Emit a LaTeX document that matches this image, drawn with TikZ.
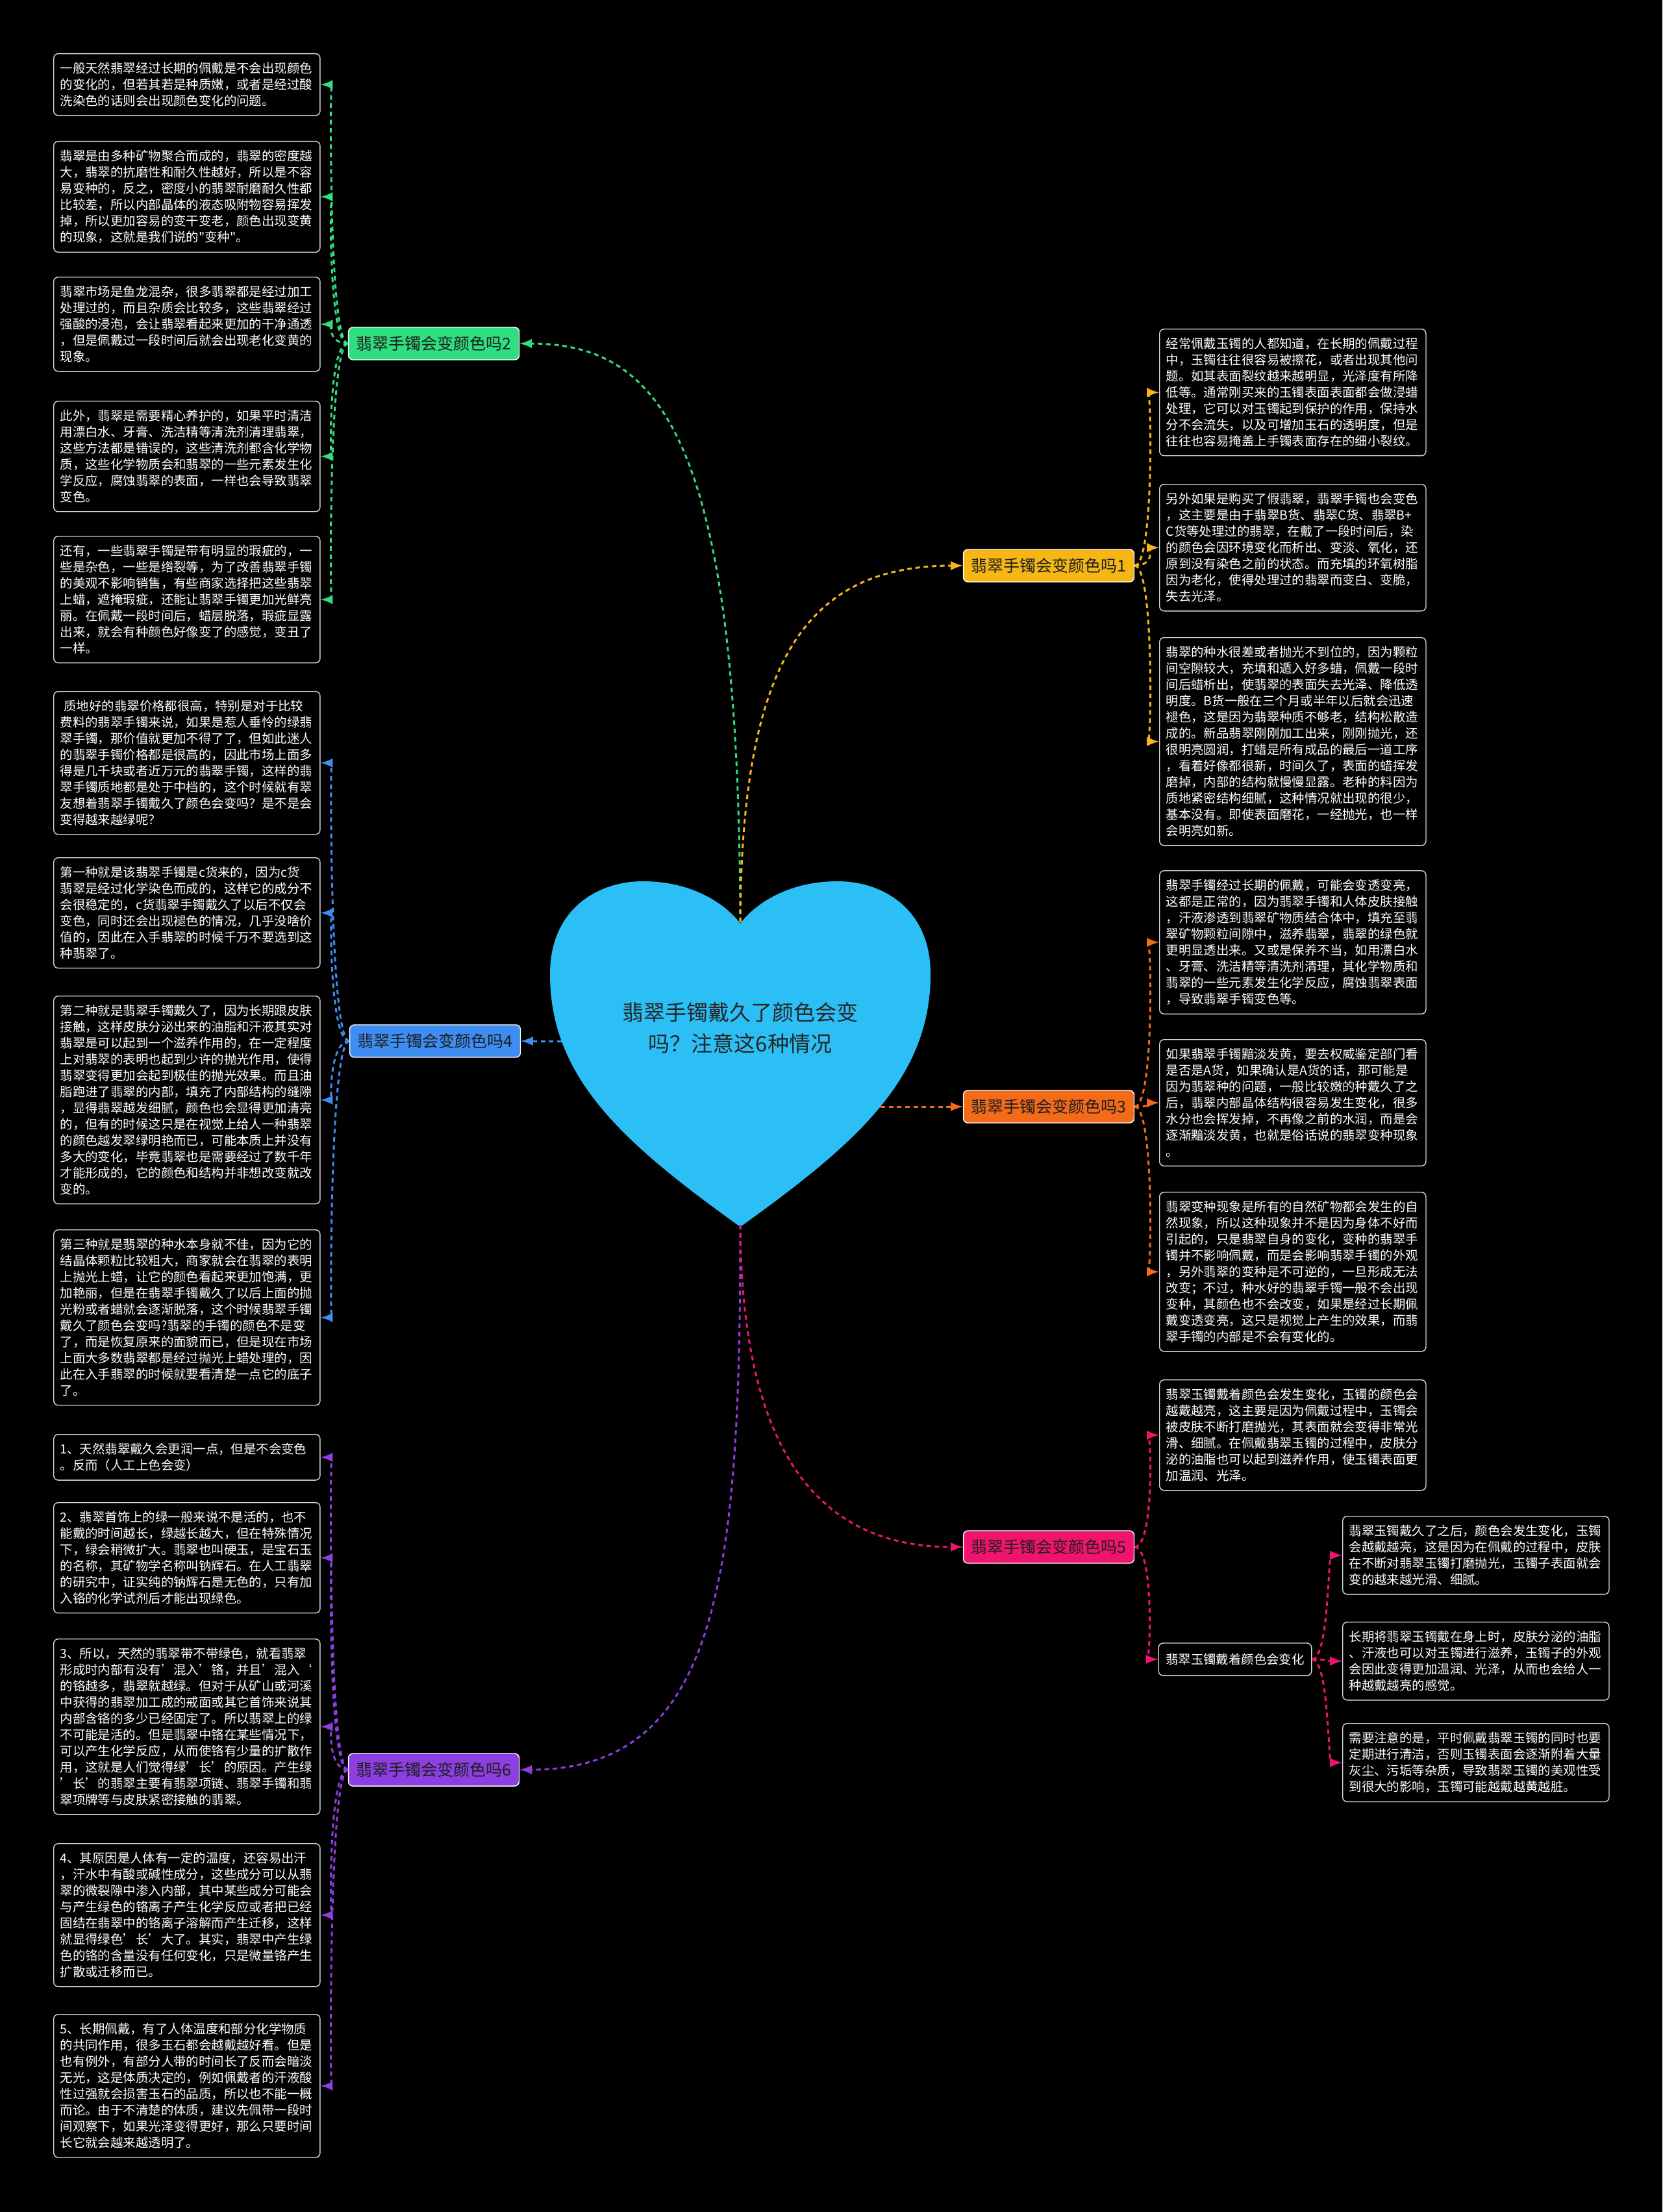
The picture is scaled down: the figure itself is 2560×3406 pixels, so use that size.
\documentclass[tikz,border=0pt]{standalone}
\usepackage{fontspec}
\usepackage{tikz}
\newfontfamily\cjk{Noto Sans CJK SC}
\definecolor{herzblau}{RGB}{43,191,246}
\definecolor{gruen}{RGB}{47,222,128}
\definecolor{blau}{RGB}{62,141,243}
\definecolor{lila}{RGB}{140,62,224}
\definecolor{gelb}{RGB}{246,183,22}
\definecolor{orange}{RGB}{243,106,25}
\definecolor{pink}{RGB}{240,20,110}

\begin{document}
\begin{tikzpicture}[x=0.01cm, y=-0.01cm,
		>=latex,   %Pfeilspitzen
		txt/.style={draw=white!85!black, line width=0.4pt, rounded corners=0.07cm, fill=black, text=white,
			font=\cjk\fontsize{5.52}{7.11}\selectfont, text width=3.9cm, align=left,
			inner xsep=0.1cm, inner ysep=0.135cm, anchor=north west},
		thema/.style={draw=white, line width=0.4pt, rounded corners=0.07cm, fill=#1, text=black!88,
			font=\cjk\fontsize{7.11}{8.5}\selectfont, inner xsep=0.12cm, inner ysep=0.1cm, minimum height=0.5cm},
		unterthema/.style={draw=white!85!black, line width=0.4pt, rounded corners=0.07cm, fill=black, text=white,
			font=\cjk\fontsize{5.52}{7.11}\selectfont, inner xsep=0.11cm, minimum height=0.5cm},
		verb/.style={->, draw=#1, line width=0.85pt, dash pattern=on 2pt off 1.6pt}]
	%Hintergrund
	\fill[black] (0,0) rectangle (2560,3406);
	\useasboundingbox (0,0) rectangle (2560,3406);
	% Herz
	\fill[herzblau] (1140,1889) .. controls (960,1760) and (847,1660) .. (847,1500)
		.. controls (847,1400) and (920,1357) .. (990,1357)
		.. controls (1070,1357) and (1120,1395) .. (1140,1422)
		.. controls (1160,1395) and (1210,1357) .. (1290,1357)
		.. controls (1360,1357) and (1433,1400) .. (1433,1500)
		.. controls (1433,1660) and (1320,1760) .. (1140,1889) -- cycle;
	\node[font=\cjk\fontsize{9.4}{13.7}\selectfont, text=black!85, align=center] (root) at (1140,1583)
		{翡翠手镯戴久了颜色会变\\吗？注意这6种情况};
	\coordinate (hn) at (1140,1420);
	\coordinate (hb) at (1140,1886);
	\coordinate (hl) at (865,1603);
	\coordinate (hr) at (1356,1704);
	% Themen
	\node[thema=gruen] (t2) at (668,529) {翡翠手镯会变颜色吗2};
	\node[thema=blau] (t4) at (670,1603) {翡翠手镯会变颜色吗4};
	\node[thema=lila] (t6) at (668,2725) {翡翠手镯会变颜色吗6};
	\node[thema=gelb] (t1) at (1615,871) {翡翠手镯会变颜色吗1};
	\node[thema=orange] (t3) at (1615,1704) {翡翠手镯会变颜色吗3};
	\node[thema=pink] (t5) at (1615,2382) {翡翠手镯会变颜色吗5};
	% Texte zu 2
	\node[txt] (t2a) at (82,82) {一般天然翡翠经过长期的佩戴是不会出现颜色\\
		的变化的，但若其若是种质嫩，或者是经过酸\\
		洗染色的话则会出现颜色变化的问题。};
	\node[txt] (t2b) at (82,217) {翡翠是由多种矿物聚合而成的，翡翠的密度越\\
		大，翡翠的抗磨性和耐久性越好，所以是不容\\
		易变种的，反之，密度小的翡翠耐磨耐久性都\\
		比较差，所以内部晶体的液态吸附物容易挥发\\
		掉，所以更加容易的变干变老，颜色出现变黄\\
		的现象，这就是我们说的"变种"。};
	\node[txt] (t2c) at (82,426) {翡翠市场是鱼龙混杂，很多翡翠都是经过加工\\
		处理过的，而且杂质会比较多，这些翡翠经过\\
		强酸的浸泡，会让翡翠看起来更加的干净通透\\
		，但是佩戴过一段时间后就会出现老化变黄的\\
		现象。};
	\node[txt] (t2d) at (82,617) {此外，翡翠是需要精心养护的，如果平时清洁\\
		用漂白水、牙膏、洗洁精等清洗剂清理翡翠，\\
		这些方法都是错误的，这些清洗剂都含化学物\\
		质，这些化学物质会和翡翠的一些元素发生化\\
		学反应，腐蚀翡翠的表面，一样也会导致翡翠\\
		变色。};
	\node[txt] (t2e) at (82,825) {还有，一些翡翠手镯是带有明显的瑕疵的，一\\
		些是杂色，一些是绺裂等，为了改善翡翠手镯\\
		的美观不影响销售，有些商家选择把这些翡翠\\
		上蜡，遮掩瑕疵，还能让翡翠手镯更加光鲜亮\\
		丽。在佩戴一段时间后，蜡层脱落，瑕疵显露\\
		出来，就会有种颜色好像变了的感觉，变丑了\\
		一样。};
	% Texte zu 4
	\node[txt] (t4a) at (82,1064) {\hspace*{0.3em}质地好的翡翠价格都很高，特别是对于比较\\
		费料的翡翠手镯来说，如果是惹人垂怜的绿翡\\
		翠手镯，那价值就更加不得了了，但如此迷人\\
		的翡翠手镯价格都是很高的，因此市场上面多\\
		得是几千块或者近万元的翡翠手镯，这样的翡\\
		翠手镯质地都是处于中档的，这个时候就有翠\\
		友想着翡翠手镯戴久了颜色会变吗？是不是会\\
		变得越来越绿呢？};
	\node[txt] (t4b) at (82,1320) {第一种就是该翡翠手镯是c货来的，因为c货\\
		翡翠是经过化学染色而成的，这样它的成分不\\
		会很稳定的，c货翡翠手镯戴久了以后不仅会\\
		变色，同时还会出现褪色的情况，几乎没啥价\\
		值的，因此在入手翡翠的时候千万不要选到这\\
		种翡翠了。};
	\node[txt] (t4c) at (82,1533) {第二种就是翡翠手镯戴久了，因为长期跟皮肤\\
		接触，这样皮肤分泌出来的油脂和汗液其实对\\
		翡翠是可以起到一个滋养作用的，在一定程度\\
		上对翡翠的表明也起到少许的抛光作用，使得\\
		翡翠变得更加会起到极佳的抛光效果。而且油\\
		脂跑进了翡翠的内部，填充了内部结构的缝隙\\
		，显得翡翠越发细腻，颜色也会显得更加清亮\\
		的，但有的时候这只是在视觉上给人一种翡翠\\
		的颜色越发翠绿明艳而已，可能本质上并没有\\
		多大的变化，毕竟翡翠也是需要经过了数千年\\
		才能形成的，它的颜色和结构并非想改变就改\\
		变的。};
	\node[txt] (t4d) at (82,1893) {第三种就是翡翠的种水本身就不佳，因为它的\\
		结晶体颗粒比较粗大，商家就会在翡翠的表明\\
		上抛光上蜡，让它的颜色看起来更加饱满，更\\
		加艳丽，但是在翡翠手镯戴久了以后上面的抛\\
		光粉或者蜡就会逐渐脱落，这个时候翡翠手镯\\
		戴久了颜色会变吗?翡翠的手镯的颜色不是变\\
		了，而是恢复原来的面貌而已，但是现在市场\\
		上面大多数翡翠都是经过抛光上蜡处理的，因\\
		此在入手翡翠的时候就要看清楚一点它的底子\\
		了。};
	% Texte zu 6
	\node[txt] (t6a) at (82,2208) {1、天然翡翠戴久会更润一点，但是不会变色\\
		。反而（人工上色会变）};
	\node[txt] (t6b) at (82,2313) {2、翡翠首饰上的绿一般来说不是活的，也不\\
		能戴的时间越长，绿越长越大，但在特殊情况\\
		下，绿会稍微扩大。翡翠也叫硬玉，是宝石玉\\
		的名称，其矿物学名称叫钠辉石。在人工翡翠\\
		的研究中，证实纯的钠辉石是无色的，只有加\\
		入铬的化学试剂后才能出现绿色。};
	\node[txt] (t6c) at (82,2523) {3、所以，天然的翡翠带不带绿色，就看翡翠\\
		形成时内部有没有’混入’铬，并且’混入‘\\
		的铬越多，翡翠就越绿。但对于从矿山或河溪\\
		中获得的翡翠加工成的戒面或其它首饰来说其\\
		内部含铬的多少已经固定了。所以翡翠上的绿\\
		不可能是活的。但是翡翠中铬在某些情况下，\\
		可以产生化学反应，从而使铬有少量的扩散作\\
		用，这就是人们觉得绿’长’的原因。产生绿\\
		’长’的翡翠主要有翡翠项链、翡翠手镯和翡\\
		翠项牌等与皮肤紧密接触的翡翠。};
	\node[txt] (t6d) at (82,2838) {4、其原因是人体有一定的温度，还容易出汗\\
		，汗水中有酸或碱性成分，这些成分可以从翡\\
		翠的微裂隙中渗入内部，其中某些成分可能会\\
		与产生绿色的铬离子产生化学反应或者把已经\\
		固结在翡翠中的铬离子溶解而产生迁移，这样\\
		就显得绿色’长’大了。其实，翡翠中产生绿\\
		色的铬的含量没有任何变化，只是微量铬产生\\
		扩散或迁移而已。};
	\node[txt] (t6e) at (82,3101) {5、长期佩戴，有了人体温度和部分化学物质\\
		的共同作用，很多玉石都会越戴越好看。但是\\
		也有例外，有部分人带的时间长了反而会暗淡\\
		无光，这是体质决定的，例如佩戴者的汗液酸\\
		性过强就会损害玉石的品质，所以也不能一概\\
		而论。由于不清楚的体质，建议先佩带一段时\\
		间观察下，如果光泽变得更好，那么只要时间\\
		长它就会越来越透明了。};
	% Texte zu 1
	\node[txt] (t1a) at (1785,506) {经常佩戴玉镯的人都知道，在长期的佩戴过程\\
		中，玉镯往往很容易被擦花，或者出现其他问\\
		题。如其表面裂纹越来越明显，光泽度有所降\\
		低等。通常刚买来的玉镯表面表面都会做浸蜡\\
		处理，它可以对玉镯起到保护的作用，保持水\\
		分不会流失，以及可增加玉石的透明度，但是\\
		往往也容易掩盖上手镯表面存在的细小裂纹。};
	\node[txt] (t1b) at (1785,745) {另外如果是购买了假翡翠，翡翠手镯也会变色\\
		，这主要是由于翡翠B货、翡翠C货、翡翠B+\\
		C货等处理过的翡翠，在戴了一段时间后，染\\
		的颜色会因环境变化而析出、变淡、氧化，还\\
		原到没有染色之前的状态。而充填的环氧树脂\\
		因为老化，使得处理过的翡翠而变白、变脆，\\
		失去光泽。};
	\node[txt] (t1c) at (1785,981) {翡翠的种水很差或者抛光不到位的，因为颗粒\\
		间空隙较大，充填和遁入好多蜡，佩戴一段时\\
		间后蜡析出，使翡翠的表面失去光泽、降低透\\
		明度。B货一般在三个月或半年以后就会迅速\\
		褪色，这是因为翡翠种质不够老，结构松散造\\
		成的。新品翡翠刚刚加工出来，刚刚抛光，还\\
		很明亮圆润，打蜡是所有成品的最后一道工序\\
		，看着好像都很新，时间久了，表面的蜡挥发\\
		磨掉，内部的结构就慢慢显露。老种的料因为\\
		质地紧密结构细腻，这种情况就出现的很少，\\
		基本没有。即使表面磨花，一经抛光，也一样\\
		会明亮如新。};
	% Texte zu 3
	\node[txt] (t3a) at (1785,1340) {翡翠手镯经过长期的佩戴，可能会变透变亮，\\
		这都是正常的，因为翡翠手镯和人体皮肤接触\\
		，汗液渗透到翡翠矿物质结合体中，填充至翡\\
		翠矿物颗粒间隙中，滋养翡翠，翡翠的绿色就\\
		更明显透出来。又或是保养不当，如用漂白水\\
		、牙膏、洗洁精等清洗剂清理，其化学物质和\\
		翡翠的一些元素发生化学反应，腐蚀翡翠表面\\
		，导致翡翠手镯变色等。};
	\node[txt] (t3b) at (1785,1600) {如果翡翠手镯黯淡发黄，要去权威鉴定部门看\\
		是否是A货，如果确认是A货的话，那可能是\\
		因为翡翠种的问题，一般比较嫩的种戴久了之\\
		后，翡翠内部晶体结构很容易发生变化，很多\\
		水分也会挥发掉，不再像之前的水润，而是会\\
		逐渐黯淡发黄，也就是俗话说的翡翠变种现象\\
		。};
	\node[txt] (t3c) at (1785,1835) {翡翠变种现象是所有的自然矿物都会发生的自\\
		然现象，所以这种现象并不是因为身体不好而\\
		引起的，只是翡翠自身的变化，变种的翡翠手\\
		镯并不影响佩戴，而是会影响翡翠手镯的外观\\
		，另外翡翠的变种是不可逆的，一旦形成无法\\
		改变；不过，种水好的翡翠手镯一般不会出现\\
		变种，其颜色也不会改变，如果是经过长期佩\\
		戴变透变亮，这只是视觉上产生的效果，而翡\\
		翠手镯的内部是不会有变化的。};
	% Texte zu 5
	\node[txt] (t5a) at (1785,2124) {翡翠玉镯戴着颜色会发生变化，玉镯的颜色会\\
		越戴越亮，这主要是因为佩戴过程中，玉镯会\\
		被皮肤不断打磨抛光，其表面就会变得非常光\\
		滑、细腻。在佩戴翡翠玉镯的过程中，皮肤分\\
		泌的油脂也可以起到滋养作用，使玉镯表面更\\
		加温润、光泽。};
	\node[unterthema] (t5b) at (1902,2555) {翡翠玉镯戴着颜色会变化};
	\node[txt] (s1) at (2067,2334) {翡翠玉镯戴久了之后，颜色会发生变化，玉镯\\
		会越戴越亮，这是因为在佩戴的过程中，皮肤\\
		在不断对翡翠玉镯打磨抛光，玉镯子表面就会\\
		变的越来越光滑、细腻。};
	\node[txt] (s2) at (2067,2497) {长期将翡翠玉镯戴在身上时，皮肤分泌的油脂\\
		、汗液也可以对玉镯进行滋养，玉镯子的外观\\
		会因此变得更加温润、光泽，从而也会给人一\\
		种越戴越亮的感觉。};
	\node[txt] (s3) at (2067,2653) {需要注意的是，平时佩戴翡翠玉镯的同时也要\\
		定期进行清洁，否则玉镯表面会逐渐附着大量\\
		灰尘、污垢等杂质，导致翡翠玉镯的美观性受\\
		到很大的影响，玉镯可能越戴越黄越脏。};
	% Verbindungen vom Herz
	\draw[verb=gruen] (hn) .. controls (1138,680) and (1020,529) .. (t2.east);
	\draw[verb=gelb] (hn) .. controls (1142,1020) and (1240,871) .. (t1.west);
	\draw[verb=blau] (hl) -- (t4.east);
	\draw[verb=orange] (hr) -- (t3.west);
	\draw[verb=lila] (hb) .. controls (1140,2420) and (1110,2725) .. (t6.east);
	\draw[verb=pink] (hb) .. controls (1142,2220) and (1250,2382) .. (t5.west);
	% Verbindungen zu den Texten
	\foreach \b in {t2a,t2b,t2c,t2d,t2e}
		\draw[verb=gruen] (t2.west) .. controls +(-30,0) and +(15,0) .. (\b.east);
	\foreach \b in {t4a,t4b,t4c,t4d}
		\draw[verb=blau] (t4.west) .. controls +(-30,0) and +(15,0) .. (\b.east);
	\foreach \b in {t6a,t6b,t6c,t6d,t6e}
		\draw[verb=lila] (t6.west) .. controls +(-30,0) and +(15,0) .. (\b.east);
	\foreach \b in {t1a,t1b,t1c}
		\draw[verb=gelb] (t1.east) .. controls +(30,0) and +(-12,0) .. (\b.west);
	\foreach \b in {t3a,t3b,t3c}
		\draw[verb=orange] (t3.east) .. controls +(30,0) and +(-12,0) .. (\b.west);
	\foreach \b in {t5a,t5b}
		\draw[verb=pink] (t5.east) .. controls +(30,0) and +(-12,0) .. (\b.west);
	\foreach \b in {s1,s2,s3}
		\draw[verb=pink] (t5b.east) .. controls +(26,0) and +(-22,0) .. (\b.west);
\end{tikzpicture}
\end{document}
